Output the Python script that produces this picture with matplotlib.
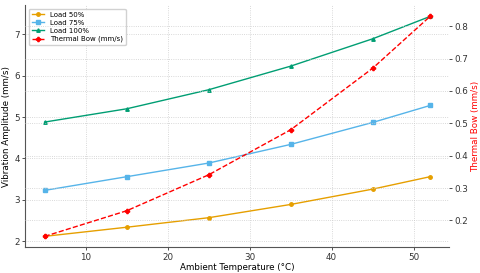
import matplotlib.pyplot as plt
import numpy as np

temp = [5, 15, 25, 35, 45, 52]
load50 = [2.12, 2.34, 2.57, 2.89, 3.26, 3.56]
load75 = [3.23, 3.56, 3.89, 4.34, 4.87, 5.28]
load100 = [4.88, 5.20, 5.66, 6.23, 6.89, 7.43]
bow = [0.151, 0.230, 0.341, 0.480, 0.670, 0.830]

plt.rcParams['font.size'] = 6.3

fig, ax1 = plt.subplots(figsize=(4.8, 2.73), dpi=100)
plt.subplots_adjust(left=0.053, right=0.936, top=0.98, bottom=0.094)

ax1.plot(temp, load50, color="#E69F00", marker="o", markersize=2.5, linewidth=1, label="Load 50%")
ax1.plot(temp, load75, color="#56B4E9", marker="s", markersize=2.5, linewidth=1, label="Load 75%")
ax1.plot(temp, load100, color="#009E73", marker="^", markersize=2.5, linewidth=1, label="Load 100%")
ax1.set_xlabel("Ambient Temperature (°C)", labelpad=1)
ax1.set_ylabel("Vibration Amplitude (mm/s)", labelpad=2)
ax1.grid(True, linestyle=":", color="#cccccc", linewidth=0.6)

ax2 = ax1.twinx()
ax2.plot(temp, bow, color="red", marker="P", markersize=3, linewidth=1, linestyle="--", label="Thermal Bow (mm/s)")
ax2.set_ylabel("Thermal Bow (mm/s)", color="red", labelpad=2)
ax2.grid(True, linestyle=":", color="#cccccc", linewidth=0.6)

for ax in (ax1, ax2):
    ax.spines["top"].set_visible(False)
    ax.spines["right"].set_visible(False)
    ax.tick_params(length=2, width=0.6, pad=2, colors="#333333", labelsize=6.3)
ax1.spines["left"].set_color("#555555")
ax1.spines["bottom"].set_color("#555555")
ax2.spines["left"].set_visible(False)
ax2.spines["bottom"].set_visible(False)

h1, l1 = ax1.get_legend_handles_labels()
h2, l2 = ax2.get_legend_handles_labels()
ax1.legend(h1 + h2, l1 + l2, loc="upper left", fontsize=5, framealpha=0.9,
           borderpad=0.4, labelspacing=0.3, handlelength=1.8)

plt.savefig("out.png")
